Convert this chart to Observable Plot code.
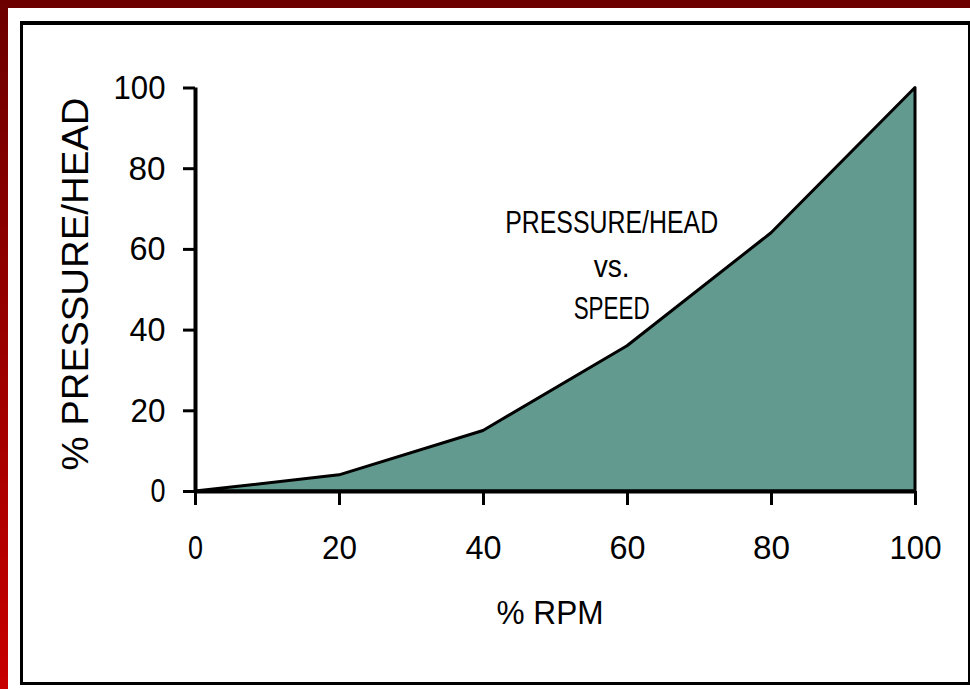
<!DOCTYPE html>
<html><head><meta charset="utf-8">
<script src="https://cdn.jsdelivr.net/npm/d3@7"></script>
<script src="https://cdn.jsdelivr.net/npm/@observablehq/plot@0.6"></script>
<style>
html,body{margin:0;padding:0;background:#fff;}
#page{position:relative;width:970px;height:689px;overflow:hidden;background:#fff;}
#topband{position:absolute;left:0;top:0;width:970px;height:8px;background:#6c0000;}
#leftband{position:absolute;left:0;top:0;width:8px;height:689px;background:linear-gradient(#6c0000,#c80000);}
#frame{position:absolute;left:20px;top:21px;width:950px;height:664px;box-sizing:border-box;border-style:solid;border-color:#000;border-width:4px 2px 3px 3px;}
#chart{position:absolute;left:0;top:0;}
</style></head>
<body><div id="page"><div id="topband"></div><div id="leftband"></div><div id="frame"></div><div id="chart"></div></div>
<script>
const rpm = [0, 20, 40, 60, 80, 100];
const pressure = [0, 4, 15, 36, 64, 100];
const xTicks = [0, 20, 40, 60, 80, 100];
const yTicks = [0, 20, 40, 60, 80, 100];
const xLabel = "% RPM";
const yLabel = "% PRESSURE/HEAD";
const noteLines = ["PRESSURE/HEAD", "vs.", "SPEED"];
const noteY = [66.4, 55.5, 45.3];
const noteX = 57.8;

const data = rpm.map((r, i) => ({rpm: r, pressure: pressure[i]}));
const notes = noteLines.map((t, i) => ({text: t, y: noteY[i]}));

const plot = Plot.plot({
  width: 970, height: 689,
  marginLeft: 195, marginRight: 55, marginTop: 87.5, marginBottom: 198,
  style: {fontFamily: '"Liberation Sans", Arial, sans-serif', fontSize: "34px", background: "transparent", color: "#000", overflow: "visible"},
  x: {domain: [0, 100], label: null},
  y: {domain: [0, 100], label: null},
  marks: [
    Plot.areaY(data, {x: "rpm", y: "pressure", fill: "#629a8f", stroke: "#000", strokeWidth: 3}),
    Plot.ruleY([0], {strokeWidth: 4}),
    Plot.ruleX([0], {strokeWidth: 4}),
    Plot.axisX(xTicks, {tickSize: 14, tickPadding: 29, strokeWidth: 3, fontSize: 34, label: null}),
    Plot.axisY(yTicks, {tickSize: 12, tickPadding: 18, strokeWidth: 3, fontSize: 34, label: null}),
    Plot.text(notes, {x: noteX, y: "y", text: "text", fontSize: 31, textAnchor: "middle"}),
    Plot.text([xLabel], {frameAnchor: "bottom", textAnchor: "middle", lineAnchor: "middle", dy: 121.5, dx: -5.5, fontSize: 34, text: d => d}),
    Plot.text([yLabel], {frameAnchor: "left", textAnchor: "middle", lineAnchor: "middle", rotate: -90, dx: -119, dy: -5.75, fontSize: 36, text: d => d})
  ]
});

const lengths = {"PRESSURE/HEAD": 213, "vs.": 36, "SPEED": 76, "% RPM": 107, "% PRESSURE/HEAD": 373,
  "0": 15, "20": 35, "40": 36, "60": 36, "80": 37, "100": 52};
d3.select(plot).selectAll("text").each(function() {
  const t = this.textContent;
  if (lengths[t] !== undefined) {
    this.setAttribute("textLength", lengths[t]);
    this.setAttribute("lengthAdjust", "spacingAndGlyphs");
  }
});
document.getElementById("chart").appendChild(plot);
</script>
</body></html>
